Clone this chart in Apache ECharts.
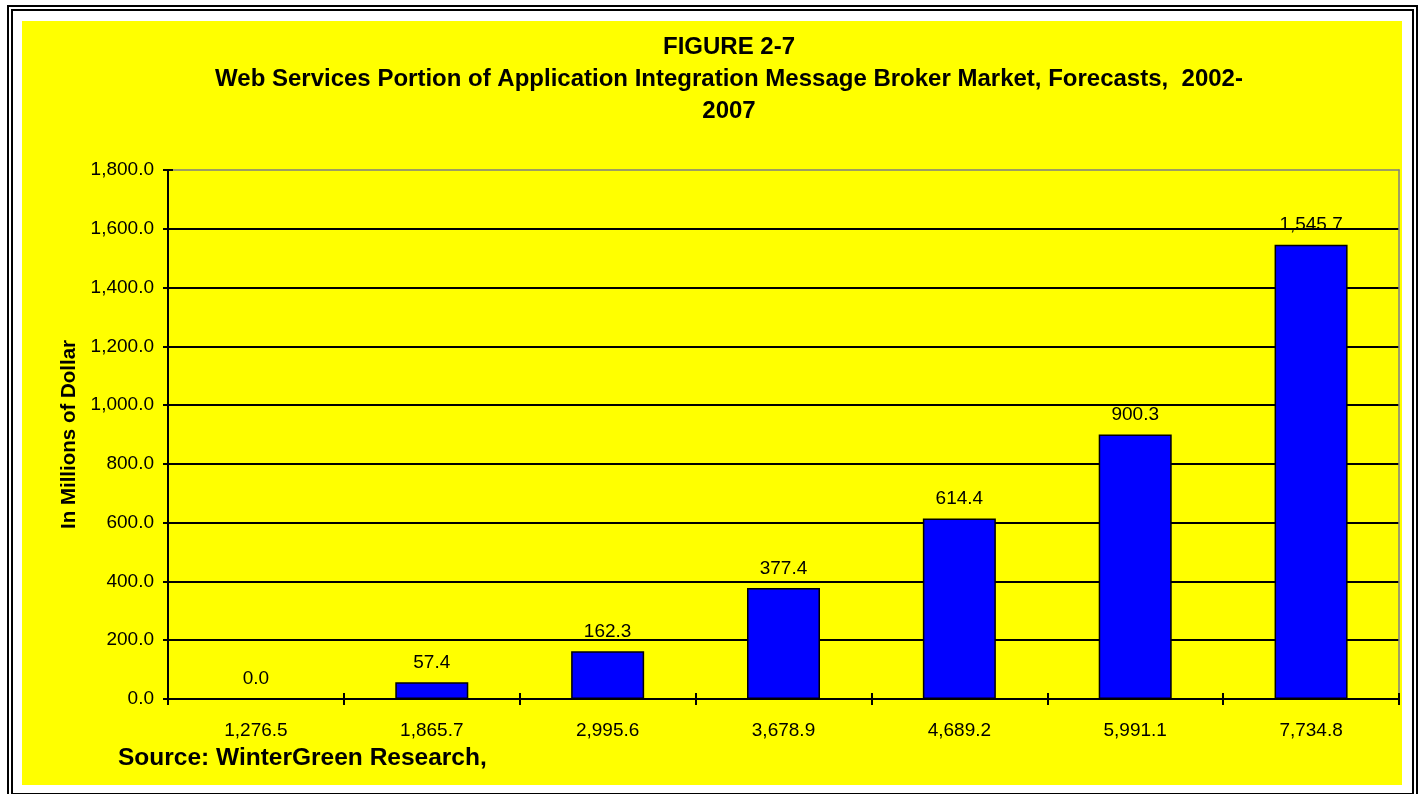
<!DOCTYPE html>
<html>
<head>
<meta charset="utf-8">
<title>FIGURE 2-7</title>
<script src="https://cdn.jsdelivr.net/npm/echarts@6/dist/echarts.min.js"></script>
<style>
  html, body { margin: 0; padding: 0; background: #ffffff; }
  .frame-outer {
    position: absolute; left: 7px; top: 5px; width: 1407px; height: 796px;
    border: 2px solid #000;
  }
  .frame-inner {
    position: absolute; left: 11px; top: 9px; width: 1399px; height: 782px;
    border: 2px solid #000;
  }
  .paper {
    position: absolute; left: 22px; top: 21px; width: 1380px; height: 764px;
    background: #ffff00;
  }
  #chart { position: absolute; left: 0; top: 0; width: 1423px; height: 794px; }
</style>
</head>
<body>
<div class="frame-outer"></div>
<div class="frame-inner"></div>
<div class="paper"></div>
<div id="chart"></div>
<script>
// data
const categories = ["1,276.5", "1,865.7", "2,995.6", "3,678.9", "4,689.2", "5,991.1", "7,734.8"];
const values = [0.0, 57.4, 162.3, 377.4, 614.4, 900.3, 1545.7];
const titleLines = [
  "FIGURE 2-7",
  "Web Services Portion of Application Integration Message Broker Market, Forecasts,  2002-",
  "2007"
];
const yAxisName = "In Millions of Dollar";
const sourceText = "Source: WinterGreen Research,";

const FONT = "'Liberation Sans', Arial, sans-serif";

function fmt(v) {
  return Number(v).toLocaleString("en-US", { minimumFractionDigits: 1, maximumFractionDigits: 1 });
}

const chart = echarts.init(document.getElementById("chart"));

const grid = { left: 168, right: 24, top: 170, bottom: 95 };
const yRange = { min: 0, max: 1800, interval: 200 };

chart.setOption({
  backgroundColor: "transparent",
  animation: false,
  title: {
    text: titleLines.join("\n"),
    left: 729,
    top: 31,
    padding: 0,
    textAlign: "center",
    textStyle: {
      fontFamily: FONT,
      fontWeight: "bold",
      fontSize: 24,
      lineHeight: 32,
      color: "#000"
    }
  },
  grid: grid,
  xAxis: [
    {
      type: "category",
      data: categories,
      position: "bottom",
      axisLine: { lineStyle: { color: "#000", width: 2 } },
      axisTick: { show: true, length: 6, lineStyle: { color: "#000", width: 2 } },
      axisLabel: { color: "#000", fontFamily: FONT, fontSize: 19, margin: 22 },
      splitLine: { show: false }
    },
    {
      // inner half of the cross ticks
      type: "category",
      data: categories,
      position: "bottom",
      axisLine: { show: false },
      axisTick: { show: true, inside: true, length: 6, lineStyle: { color: "#000", width: 2 } },
      axisLabel: { show: false },
      splitLine: { show: false }
    },
    {
      // grey top border of plot area
      type: "category",
      data: categories,
      position: "top",
      axisLine: { onZero: false, lineStyle: { color: "#808080", width: 1.5 } },
      axisTick: { show: false },
      axisLabel: { show: false },
      splitLine: { show: false }
    }
  ],
  yAxis: [
    {
      type: "value",
      min: yRange.min,
      max: yRange.max,
      interval: yRange.interval,
      position: "left",
      name: yAxisName,
      nameLocation: "middle",
      nameRotate: 90,
      nameGap: 88,
      nameTextStyle: { fontFamily: FONT, fontWeight: "bold", fontSize: 20.5, color: "#000" },
      axisLine: { show: true, lineStyle: { color: "#000", width: 2 } },
      axisTick: { show: true, length: 5, lineStyle: { color: "#000", width: 2 } },
      axisLabel: { color: "#000", fontFamily: FONT, fontSize: 19, margin: 14, formatter: fmt },
      splitLine: { show: true, showMaxLine: false, lineStyle: { color: "#000", width: 2 } }
    },
    {
      type: "value",
      min: yRange.min,
      max: yRange.max,
      interval: yRange.interval,
      position: "left",
      axisLine: { show: false },
      axisTick: { show: true, inside: true, length: 5, lineStyle: { color: "#000", width: 2 } },
      axisLabel: { show: false },
      splitLine: { show: false }
    },
    {
      // grey right border of plot area
      type: "value",
      min: yRange.min,
      max: yRange.max,
      interval: yRange.interval,
      position: "right",
      axisLine: { show: true, onZero: false, lineStyle: { color: "#808080", width: 1.5 } },
      axisTick: { show: false },
      axisLabel: { show: false },
      splitLine: { show: false }
    }
  ],
  graphic: [
    {
      type: "text",
      left: 118,
      top: 746,
      style: {
        text: sourceText,
        font: "bold 24.5px " + FONT,
        fill: "#000"
      }
    }
  ],
  series: [
    {
      type: "bar",
      data: values,
      xAxisIndex: 0,
      yAxisIndex: 0,
      barWidth: 73,
      itemStyle: { color: "#0000ff", borderColor: "#000", borderWidth: 1.5 },
      label: {
        show: true,
        position: "top",
        distance: 10,
        color: "#000",
        fontFamily: FONT,
        fontSize: 19,
        formatter: function (p) { return fmt(p.value); }
      }
    }
  ]
});
</script>
</body>
</html>
